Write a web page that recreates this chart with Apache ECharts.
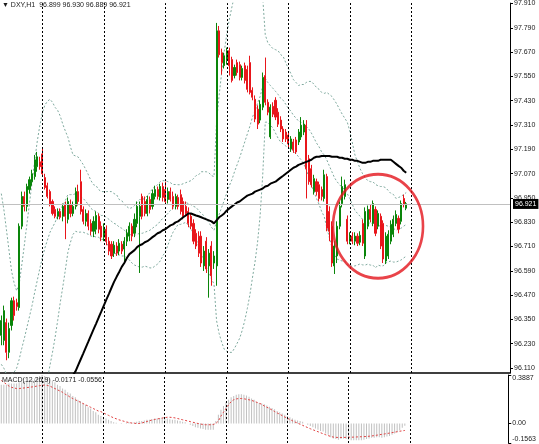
<!DOCTYPE html>
<html><head><meta charset="utf-8">
<script src="https://cdn.jsdelivr.net/npm/echarts@6/dist/echarts.min.js"></script>
<style>html,body{margin:0;padding:0;background:#fff}#c{width:539px;height:444px}</style>
</head><body><div id="c"></div>
<script>
const symbolName = 'DXY,H1';
const lastBar = [96.899, 96.930, 96.889, 96.921];
const macdTitleValues = [-0.0171, -0.0556];
const priceTicks = [96.11,96.23,96.35,96.47,96.59,96.71,96.83,96.95,97.07,97.19,97.31,97.43,97.55,97.67,97.79,97.91];
const macdTicks = [-0.1563, 0, 0.3887];
const separatorBars = [16, 40, 64, 88, 112, 136, 160];
const totalSlots = 199;
const circleMark = [147, 96.81];

// [open, close, low, high]
const candles = [
[96.271,96.344,96.222,96.369],[96.246,96.393,96.222,96.418],[96.334,96.187,96.148,96.354],[96.187,96.305,96.158,96.334],
[96.320,96.442,96.295,96.457],[96.442,96.369,96.344,96.462],[96.432,96.413,96.393,96.452],[96.408,96.810,96.393,96.824],
[96.810,96.957,96.795,96.981],[96.957,96.908,96.883,96.981],[96.908,97.006,96.883,97.020],[96.991,97.040,96.971,97.055],
[97.030,97.069,97.010,97.089],[97.055,97.138,97.040,97.162],[97.104,97.153,97.079,97.177],[97.128,97.104,97.089,97.153],
[97.167,97.069,97.055,97.197],[97.050,97.001,96.991,97.069],[97.010,96.957,96.947,97.025],[96.981,96.917,96.908,96.991],
[96.932,96.873,96.863,96.942],[96.893,96.859,96.849,96.908],[96.859,96.883,96.844,96.898],[96.883,96.854,96.844,96.898],
[96.859,96.908,96.834,96.922],[96.917,96.859,96.746,96.932],[96.844,96.932,96.824,96.952],[96.917,96.873,96.854,96.942],
[96.873,96.908,96.859,96.932],[96.908,96.981,96.893,97.001],[96.981,96.932,96.912,97.015],[97.030,96.883,96.868,97.089],
[96.893,96.834,96.819,96.908],[96.834,96.873,96.810,96.893],[96.873,96.810,96.790,96.888],[96.824,96.785,96.765,96.844],
[96.785,96.834,96.756,96.859],[96.795,96.863,96.770,96.883],[96.859,96.795,96.775,96.873],[96.810,96.756,96.736,96.834],
[96.756,96.805,96.736,96.824],[96.795,96.736,96.716,96.814],[96.736,96.687,96.667,96.756],[96.721,96.663,96.648,96.736],
[96.677,96.716,96.658,96.736],[96.712,96.677,96.663,96.731],[96.687,96.726,96.667,96.746],[96.721,96.687,96.672,96.736],
[96.697,96.736,96.638,96.756],[96.736,96.775,96.712,96.795],[96.761,96.810,96.736,96.829],[96.810,96.761,96.736,96.824],
[96.775,96.844,96.756,96.873],[96.824,96.908,96.805,96.932],[96.859,96.908,96.579,96.932],[96.957,96.859,96.844,96.971],
[96.932,96.873,96.859,96.957],[96.873,96.942,96.859,96.961],[96.942,96.893,96.873,96.957],[96.908,96.971,96.893,96.991],
[96.957,96.991,96.942,97.010],[96.991,96.957,96.942,97.006],[96.952,97.006,96.937,97.020],[97.006,96.952,96.932,97.025],
[96.991,96.932,96.917,97.030],[96.942,96.981,96.922,97.001],[96.981,96.942,96.932,97.001],[96.957,96.908,96.893,96.981],
[96.908,96.957,96.893,96.971],[96.952,96.908,96.893,96.966],[96.966,96.883,96.868,96.991],[96.932,96.859,96.844,96.952],
[96.908,96.873,96.859,96.932],[96.883,96.824,96.805,96.903],[96.859,96.810,96.795,96.873],[96.824,96.736,96.721,96.844],
[96.775,96.712,96.697,96.795],[96.761,96.677,96.658,96.785],[96.761,96.628,96.609,96.785],[96.614,96.687,96.589,96.712],
[96.736,96.599,96.579,96.756],[96.614,96.677,96.457,96.697],[96.712,96.565,96.516,96.736],[96.628,96.663,96.599,96.687],
[96.614,97.775,96.516,97.814],[97.775,97.657,97.643,97.799],[97.667,97.618,97.559,97.687],[97.603,97.652,97.589,97.667],
[97.628,97.677,97.608,97.692],[97.677,97.603,97.554,97.692],[97.633,97.530,97.520,97.647],[97.554,97.594,97.540,97.608],
[97.618,97.569,97.554,97.633],[97.608,97.545,97.530,97.623],[97.545,97.589,97.530,97.603],[97.603,97.530,97.515,97.618],
[97.584,97.486,97.471,97.603],[97.618,97.471,97.461,97.652],[97.481,97.447,97.432,97.496],[97.437,97.339,97.324,97.456],
[97.388,97.314,97.290,97.407],[97.334,97.412,97.319,97.432],[97.398,97.545,97.383,97.569],[97.554,97.422,97.407,97.643],
[97.422,97.373,97.358,97.437],[97.251,97.398,97.241,97.412],[97.402,97.363,97.349,97.422],[97.432,97.349,97.334,97.447],
[97.373,97.314,97.300,97.393],[97.334,97.290,97.275,97.353],[97.290,97.241,97.226,97.304],[97.275,97.241,97.226,97.290],
[97.260,97.216,97.197,97.275],[97.192,97.241,97.177,97.255],[97.226,97.187,97.172,97.241],[97.236,97.177,97.167,97.251],
[97.226,97.275,97.211,97.290],[97.251,97.309,97.236,97.349],[97.275,97.314,97.260,97.334],[97.309,97.094,96.947,97.334],
[97.143,97.030,97.015,97.162],[97.094,97.015,97.001,97.113],[96.981,97.045,96.966,97.064],[97.030,96.981,96.961,97.045],
[97.015,96.947,96.932,97.030],[96.991,96.957,96.937,97.006],[96.947,97.064,96.932,97.089],[97.055,96.800,96.785,97.069],
[96.883,96.785,96.736,96.908],[96.810,96.628,96.609,96.834],[96.614,96.712,96.574,96.736],[96.663,96.810,96.628,96.834],
[96.810,96.908,96.795,96.932],[96.922,97.006,96.903,97.055],[96.957,97.015,96.942,97.040],[96.844,96.736,96.721,96.863],
[96.736,96.761,96.721,96.780],[96.761,96.736,96.721,96.780],[96.736,96.761,96.716,96.780],[96.761,96.726,96.712,96.775],
[96.731,96.765,96.716,96.785],[96.824,96.726,96.712,96.844],[96.663,96.883,96.648,96.903],[96.810,96.893,96.795,96.912],
[96.893,96.844,96.829,96.917],[96.824,96.922,96.810,96.937],[96.893,96.775,96.761,96.908],[96.810,96.873,96.795,96.888],
[96.859,96.712,96.697,96.873],[96.824,96.648,96.628,96.839],[96.638,96.761,96.623,96.780],[96.663,96.770,96.648,96.790],
[96.736,96.819,96.721,96.839],[96.770,96.844,96.756,96.863],[96.824,96.868,96.810,96.888],[96.849,96.795,96.775,96.863],
[96.834,96.922,96.819,96.937],[96.947,96.917,96.903,96.966],[96.899,96.921,96.889,96.930]
];

const bbMiddle = [
96.128,96.109,96.079,96.075,96.079,96.089,96.109,96.153,96.207,96.256,
96.310,96.364,96.418,96.481,96.540,96.599,96.653,96.702,96.741,96.780,
96.805,96.829,96.863,96.893,96.912,96.937,96.966,96.966,96.966,96.971,
96.966,96.957,96.947,96.932,96.917,96.898,96.888,96.883,96.873,96.863,
96.863,96.854,96.844,96.834,96.824,96.819,96.805,96.800,96.790,96.780,
96.770,96.765,96.765,96.770,96.775,96.775,96.780,96.785,96.790,96.800,
96.810,96.819,96.834,96.849,96.859,96.873,96.888,96.898,96.908,96.917,
96.917,96.922,96.927,96.922,96.917,96.908,96.903,96.888,96.873,96.863,
96.844,96.829,96.805,96.790,96.834,96.868,96.903,96.937,96.976,97.010,
97.040,97.079,97.113,97.148,97.187,97.226,97.265,97.304,97.349,97.378,
97.417,97.451,97.500,97.540,97.520,97.505,97.491,97.476,97.461,97.442,
97.432,97.412,97.393,97.378,97.358,97.344,97.329,97.324,97.314,97.304,
97.290,97.270,97.246,97.221,97.202,97.177,97.162,97.138,97.108,97.079,
97.050,97.030,97.015,97.001,96.991,96.971,96.947,96.917,96.888,96.873,
96.859,96.844,96.834,96.829,96.824,96.824,96.810,96.814,96.810,96.810,
96.814,96.810,96.805,96.800,96.790,96.795,96.800,96.810,96.819];

const bbHalfWidth = [
0.843,0.784,0.715,0.617,0.510,0.441,0.382,0.372,0.412,0.461,
0.510,0.559,0.608,0.647,0.686,0.706,0.715,0.706,0.686,0.657,
0.617,0.568,0.519,0.461,0.402,0.343,0.284,0.235,0.196,0.186,
0.186,0.176,0.167,0.157,0.147,0.137,0.127,0.127,0.118,0.118,
0.118,0.127,0.137,0.147,0.147,0.147,0.137,0.137,0.127,0.127,
0.127,0.137,0.147,0.157,0.167,0.167,0.167,0.176,0.186,0.196,
0.196,0.196,0.196,0.186,0.176,0.157,0.137,0.118,0.108,0.098,
0.098,0.098,0.098,0.108,0.118,0.137,0.157,0.176,0.206,0.216,
0.235,0.245,0.255,0.265,0.490,0.588,0.666,0.735,0.784,0.823,
0.853,0.872,0.882,0.892,0.892,0.882,0.862,0.833,0.794,0.745,
0.686,0.588,0.441,0.216,0.196,0.196,0.196,0.206,0.216,0.216,
0.216,0.206,0.196,0.186,0.176,0.176,0.176,0.186,0.196,0.216,
0.235,0.255,0.265,0.274,0.284,0.294,0.304,0.333,0.353,0.372,
0.382,0.382,0.372,0.363,0.353,0.353,0.333,0.304,0.274,0.255,
0.235,0.225,0.216,0.206,0.206,0.206,0.206,0.196,0.196,0.196,
0.186,0.176,0.167,0.167,0.157,0.157,0.157,0.157,0.157];

const maStartBar = 27;
const maValues = [
96.050,96.075,96.094,96.124,96.153,96.182,96.212,96.241,96.271,96.300,
96.329,96.359,96.388,96.418,96.447,96.476,96.506,96.535,96.560,96.584,
96.609,96.628,96.653,96.672,96.682,96.692,96.707,96.716,96.721,96.731,
96.736,96.746,96.756,96.765,96.775,96.780,96.790,96.795,96.805,96.814,
96.819,96.829,96.834,96.844,96.854,96.863,96.873,96.873,96.868,96.863,
96.859,96.854,96.849,96.844,96.839,96.834,96.824,96.839,96.854,96.863,
96.873,96.888,96.898,96.908,96.917,96.927,96.932,96.942,96.952,96.961,
96.966,96.971,96.981,96.986,96.991,96.996,97.006,97.010,97.020,97.025,
97.030,97.040,97.050,97.059,97.069,97.079,97.089,97.099,97.104,97.113,
97.118,97.123,97.128,97.133,97.138,97.148,97.153,97.153,97.157,97.157,
97.157,97.157,97.153,97.153,97.153,97.148,97.148,97.143,97.143,97.138,
97.138,97.133,97.133,97.128,97.123,97.123,97.128,97.128,97.133,97.133,
97.133,97.138,97.138,97.138,97.138,97.138,97.128,97.118,97.108,97.099,
97.084,97.074];

const macdMain = [
0.31,0.31,0.31,0.32,0.32,0.32,0.32,0.33,0.33,0.34,0.34,0.35,0.35,0.36,0.37,0.38,0.389,0.38,0.37,0.36,
0.34,0.33,0.31,0.30,0.28,0.27,0.25,0.24,0.22,0.21,0.19,0.18,0.16,0.15,0.13,0.12,0.10,0.09,0.07,0.06,
0.05,0.04,0.03,0.02,0.01,0.005,0.0,-0.005,0.0,0.005,0.01,0.005,0.01,0.015,0.02,0.02,0.025,0.03,0.03,0.035,
0.04,0.04,0.045,0.045,0.04,0.04,0.035,0.03,0.03,0.025,0.02,0.015,0.01,0.0,-0.01,-0.02,-0.03,-0.035,-0.04,-0.045,
-0.05,-0.05,-0.05,-0.05,0.02,0.07,0.11,0.14,0.17,0.19,0.21,0.22,0.23,0.235,0.235,0.23,0.225,0.215,0.20,0.19,
0.175,0.165,0.16,0.155,0.145,0.135,0.125,0.115,0.10,0.09,0.08,0.07,0.06,0.05,0.04,0.03,0.025,0.02,0.015,0.0,
-0.01,-0.02,-0.03,-0.04,-0.05,-0.06,-0.065,-0.08,-0.09,-0.11,-0.12,-0.125,-0.13,-0.125,-0.12,-0.125,-0.13,-0.135,-0.135,-0.135,
-0.135,-0.135,-0.13,-0.125,-0.12,-0.115,-0.115,-0.11,-0.11,-0.115,-0.11,-0.105,-0.10,-0.09,-0.08,-0.07,-0.055,-0.035,-0.0171];

const macdSignal = [
0.345,0.33,0.315,0.30,0.29,0.285,0.28,0.28,0.283,0.285,0.288,0.29,0.293,0.296,0.30,0.303,0.306,0.308,0.305,0.30,
0.29,0.28,0.27,0.26,0.25,0.235,0.225,0.21,0.20,0.19,0.18,0.17,0.16,0.15,0.14,0.13,0.12,0.11,0.10,0.095,
0.085,0.075,0.065,0.055,0.045,0.038,0.03,0.024,0.018,0.012,0.008,0.004,0.002,0.0,0.0,0.004,0.01,0.016,0.022,0.028,
0.032,0.036,0.04,0.044,0.047,0.05,0.05,0.048,0.045,0.04,0.035,0.03,0.025,0.02,0.015,0.01,0.005,0.0,-0.004,-0.008,
-0.01,-0.01,-0.01,-0.008,0.0,0.02,0.06,0.09,0.12,0.15,0.175,0.19,0.197,0.2,0.2,0.198,0.194,0.19,0.185,0.178,
0.17,0.162,0.154,0.14,0.13,0.12,0.108,0.096,0.085,0.074,0.063,0.052,0.042,0.032,0.022,0.012,0.003,-0.006,-0.015,-0.024,
-0.033,-0.042,-0.05,-0.058,-0.066,-0.074,-0.082,-0.09,-0.097,-0.104,-0.109,-0.111,-0.112,-0.112,-0.112,-0.111,-0.11,-0.11,-0.109,-0.108,
-0.107,-0.106,-0.105,-0.104,-0.102,-0.1,-0.097,-0.094,-0.09,-0.087,-0.084,-0.08,-0.077,-0.073,-0.07,-0.066,-0.062,-0.059,-0.0556];

const categories = Array.from({length: totalSlots}, (_, i) => String(i));
const bbUpper = bbMiddle.map((m, i) => +(m + bbHalfWidth[i]).toFixed(3));
const bbLower = bbMiddle.map((m, i) => +(m - bbHalfWidth[i]).toFixed(3));
const maData = maValues.map((v, i) => [i + maStartBar, v]);

const font = '"Liberation Sans", Arial, sans-serif';
const txt = {fontSize: 7, fontWeight: 'normal', color: '#1a1a1a', fontFamily: font};
const bbStyle = {color: '#7fa99e', width: 1, type: [2, 2]};
const sepLines = separatorBars.map(b => ({xAxis: b, lineStyle: {color: '#000', type: [2, 2], width: 1}, label: {show: false}}));

const chart = echarts.init(document.getElementById('c'), null, {renderer: 'canvas'});
chart.setOption({
  animation: false,
  backgroundColor: '#fff',
  title: [
    {text: '\u25BC ' + symbolName + '  ' + lastBar.map(v => v.toFixed(3)).join(' '), left: 2, top: 2, padding: 0, textStyle: txt},
    {text: 'MACD(12,26,9) ' + macdTitleValues.map(v => v.toFixed(4)).join(' '), left: 2, top: 377, padding: 0, textStyle: txt}
  ],
  grid: [
    {left: 0, right: 29, top: 0, height: 373},
    {left: 0, right: 29, top: 375, height: 68}
  ],
  xAxis: [
    {type: 'category', data: categories, gridIndex: 0, boundaryGap: true,
     axisLine: {show: true, lineStyle: {color: '#000', width: 1.5}}, axisTick: {show: false}, axisLabel: {show: false}, splitLine: {show: false}},
    {type: 'category', data: categories, gridIndex: 1, boundaryGap: true,
     axisLine: {show: false}, axisTick: {show: false}, axisLabel: {show: false}, splitLine: {show: false}}
  ],
  yAxis: [
    {type: 'value', gridIndex: 0, position: 'right', min: 96.085, max: 97.912,
     axisLine: {show: true, lineStyle: {color: '#000', width: 1}},
     axisTick: {show: true, length: 3, customValues: priceTicks, lineStyle: {color: '#000'}},
     axisLabel: {customValues: priceTicks, formatter: v => v.toFixed(3), margin: 4, ...txt},
     splitLine: {show: false}},
    {type: 'value', gridIndex: 1, position: 'right', min: macdTicks[0], max: macdTicks[2],
     axisLine: {show: true, lineStyle: {color: '#000', width: 1}},
     axisTick: {show: true, length: 3, customValues: macdTicks, lineStyle: {color: '#000'}},
     axisLabel: {customValues: macdTicks, formatter: v => (v === 0 ? '0.00' : v.toFixed(4)), margin: 4,
       verticalAlignMaxLabel: 'top', verticalAlignMinLabel: 'bottom', ...txt},
     splitLine: {show: false}}
  ],
  series: [
    {type: 'line', name: 'bbUpper', data: bbUpper, showSymbol: false, lineStyle: bbStyle, z: 1, silent: true},
    {type: 'line', name: 'bbMiddle', data: bbMiddle, showSymbol: false, lineStyle: bbStyle, z: 1, silent: true},
    {type: 'line', name: 'bbLower', data: bbLower, showSymbol: false, lineStyle: bbStyle, z: 1, silent: true},
    {type: 'candlestick', name: symbolName, data: candles, barWidth: 1.6, z: 3,
     itemStyle: {color: '#0a850a', color0: '#e8161b', borderColor: '#0a850a', borderColor0: '#e8161b', borderWidth: 1},
     markLine: {symbol: 'none', silent: true, animation: false,
       data: sepLines.concat([{yAxis: lastBar[3], lineStyle: {color: '#c0c0c0', type: 'solid', width: 1},
         label: {show: true, position: 'end', distance: 3, formatter: () => lastBar[3].toFixed(3),
           backgroundColor: '#000', color: '#fff', fontSize: 7, fontFamily: font, padding: [2, 2, 1, 2]}}])}},
    {type: 'line', name: 'MA', data: maData, showSymbol: false, lineStyle: {color: '#000', width: 2}, z: 4, silent: true},
    {type: 'scatter', name: 'mark', data: [circleMark], z: 5, silent: true,
     symbol: 'path://M50,0 A50,50 0 1 1 50,100 A50,50 0 1 1 50,0 Z', symbolSize: [90, 104],
     itemStyle: {color: 'rgba(0,0,0,0)', borderColor: '#e3141b', borderWidth: 2.8}},
    {type: 'bar', name: 'MACD', xAxisIndex: 1, yAxisIndex: 1, data: macdMain, barWidth: 1,
     itemStyle: {color: '#c0c0c0'}, silent: true,
     markLine: {symbol: 'none', silent: true, animation: false, data: sepLines}},
    {type: 'line', name: 'Signal', xAxisIndex: 1, yAxisIndex: 1, data: macdSignal, showSymbol: false,
     lineStyle: {color: '#e04040', width: 1, type: [2, 2]}, silent: true}
  ]
});
</script></body></html>
